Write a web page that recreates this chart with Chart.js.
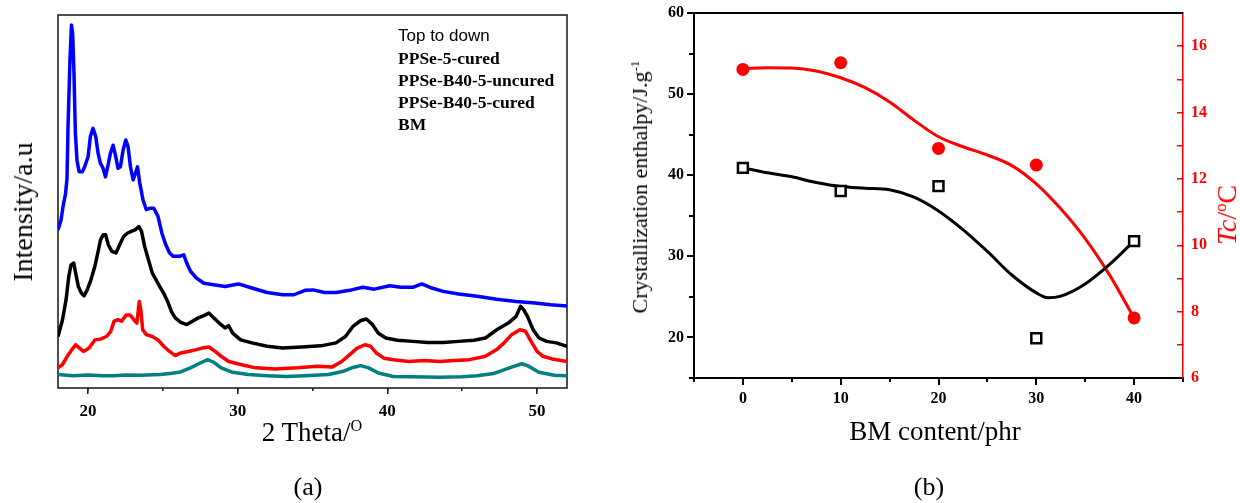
<!DOCTYPE html>
<html>
<head>
<meta charset="utf-8">
<script src="https://cdn.jsdelivr.net/npm/chart.js@4.4.1/dist/chart.umd.min.js"></script>
<style>
body { margin: 0; width: 1240px; height: 503px; background: #fff; position: relative; overflow: hidden; font-family: "Liberation Serif", "Times New Roman", serif; }
.box { position: absolute; }
.lbl { position: absolute; white-space: nowrap; color: #000; }
.rot { transform: translate(-50%, -50%) rotate(-90deg); }
sup { font-size: 60%; vertical-align: 0.6em; line-height: 0; }
</style>
</head>
<body>
<div class="box" style="left:0;top:0;width:600px;height:430px"><canvas id="xrd"></canvas></div>
<div class="box" style="left:600px;top:0;width:640px;height:460px"><canvas id="dsc"></canvas></div>

<div class="lbl" style="left:398px;top:25px;font:17px 'Liberation Sans',Arial,sans-serif;line-height:22px">Top to down</div>
<div class="lbl" style="left:398px;top:47px;font:bold 17.5px 'Liberation Serif',serif;line-height:22px">PPSe-5-cured<br>PPSe-B40-5-uncured<br>PPSe-B40-5-cured<br>BM</div>
<div class="lbl rot" style="left:23px;top:212px;font-size:28px;line-height:28px">Intensity/a.u</div>
<div class="lbl" style="left:312px;top:417px;font-size:27px;line-height:30px;transform:translateX(-50%)">2 Theta/<sup>O</sup></div>
<div class="lbl" style="left:308px;top:472px;font-size:26px;line-height:30px;transform:translateX(-50%)">(a)</div>

<div class="lbl rot" style="left:640px;top:187px;font-size:22px;line-height:22px">Crystallization enthalpy/J.g<sup>-1</sup></div>
<div class="lbl rot" style="left:1227px;top:215px;font-size:28px;line-height:28px;color:#ff0000"><i>Tc</i>/<sup>o</sup>C</div>
<div class="lbl" style="left:935px;top:416px;font-size:27px;line-height:30px;transform:translateX(-50%)">BM content/phr</div>
<div class="lbl" style="left:929px;top:472px;font-size:26px;line-height:30px;transform:translateX(-50%)">(b)</div>

<script>
// panel (a): XRD patterns, intensity in arbitrary units (0-100 over the frame)
const blueTheta = [18, 18.2, 18.35, 18.5, 18.6, 18.67, 18.8, 18.9, 18.98, 19.07, 19.16, 19.27, 19.41, 19.63, 19.78, 20.01, 20.16, 20.34, 20.52, 20.68, 20.83, 21.01, 21.17, 21.34, 21.5, 21.68, 21.86, 22.01, 22.17, 22.35, 22.53, 22.68, 22.84, 23.02, 23.17, 23.31, 23.46, 23.68, 23.9, 24.17, 24.4, 24.68, 24.94, 25.2, 25.45, 25.7, 26.1, 26.4, 26.6, 26.85, 27.24, 27.75, 28.4, 29.16, 30.05, 30.95, 31.97, 33, 33.76, 34.5, 35.04, 35.8, 36.57, 37.6, 38.36, 39.13, 40.15, 40.9, 41.7, 42.3, 42.97, 43.73, 44.76, 46, 47.3, 48.6, 49.87, 50.9, 52];
const blueInt = [42.4, 45, 49, 52, 56, 70, 88, 97.3, 95, 84, 68.3, 61, 58, 58, 59.3, 62, 67.4, 69.6, 67.4, 62.9, 60.3, 58.9, 56.6, 59.7, 62.9, 65.1, 62, 58.9, 59.3, 63.8, 66.5, 64.7, 59.3, 55.8, 57.5, 59.3, 55, 50.4, 47.8, 48.2, 48.2, 46, 41.5, 38.4, 36.2, 35.3, 35.3, 35.7, 33.5, 31.3, 29.5, 28.1, 27.7, 27.2, 27.9, 26.8, 25.6, 25, 25, 26.2, 26.3, 25.6, 25.6, 26.3, 27, 26.5, 27.4, 27, 27, 27.9, 26.8, 25.9, 25.2, 24.6, 23.8, 23.2, 22.8, 22.3, 22];

const blackTheta = [18, 18.3, 18.54, 18.72, 18.87, 19.05, 19.18, 19.36, 19.57, 19.74, 19.95, 20.2, 20.46, 20.66, 20.84, 21.02, 21.18, 21.36, 21.6, 21.87, 22.12, 22.38, 22.63, 22.89, 23.15, 23.4, 23.58, 23.79, 24.04, 24.3, 24.55, 24.8, 25.06, 25.32, 25.58, 25.83, 26.2, 26.6, 26.98, 27.37, 27.75, 28.08, 28.4, 28.77, 29.16, 29.4, 29.67, 30.2, 30.95, 31.97, 33, 34.27, 35.55, 36.57, 37.2, 37.7, 38.23, 38.6, 39, 39.4, 39.9, 40.67, 41.7, 42.7, 43.73, 44.76, 45.78, 46.55, 47.3, 48.08, 48.6, 48.9, 49.1, 49.36, 49.74, 50.13, 50.64, 51.28, 52];
const blackInt = [13.8, 18.3, 23.7, 29.9, 33, 33.5, 30.8, 27.2, 25.4, 24.7, 26.3, 29, 32.6, 36.2, 39.7, 41.1, 41.1, 38.4, 36.6, 36.2, 38.4, 40.6, 41.5, 42, 42.4, 43.3, 42, 37.9, 34.4, 30.8, 29, 27.2, 25.4, 23.2, 20.5, 18.8, 17.6, 17, 17.9, 18.8, 19.4, 20.1, 18.8, 17.4, 16.1, 16.7, 14.7, 12.9, 12.1, 11.2, 10.7, 11, 11.3, 12.1, 13.8, 16.5, 18.1, 18.5, 17, 14.7, 13.4, 12.8, 12.5, 12.2, 12.2, 12.5, 12.8, 13.4, 15.6, 17.4, 19.2, 21.9, 21, 19.2, 15.6, 13.4, 12.5, 12.1, 11.2];

const redTheta = [18, 18.3, 18.62, 18.93, 19.18, 19.44, 19.7, 20.08, 20.46, 20.84, 21.23, 21.53, 21.74, 22, 22.25, 22.56, 22.81, 23.07, 23.27, 23.43, 23.53, 23.66, 23.9, 24.3, 24.68, 25.06, 25.45, 25.83, 26.2, 26.7, 27.24, 27.62, 28.08, 28.5, 28.9, 29.4, 30.2, 31.2, 32.5, 34, 35.3, 36.3, 36.95, 37.47, 37.98, 38.5, 38.87, 39.26, 39.77, 40.4, 41.43, 42.46, 43.48, 44.5, 45.5, 46.55, 47.3, 47.8, 48.3, 48.85, 49.23, 49.6, 50, 50.4, 51, 52];
const redInt = [5.4, 6.3, 8.5, 10.3, 11.6, 10.7, 9.8, 10.7, 12.9, 13.1, 13.8, 15.2, 17.9, 18.3, 17.9, 19.6, 19.6, 18.3, 17.4, 23.2, 21, 15.6, 14.3, 13.8, 12.9, 11.2, 9.8, 8.7, 9.4, 9.8, 10.3, 10.7, 11, 9.8, 8.5, 7.1, 6.3, 5.4, 5.1, 5.4, 5.8, 5.6, 7.1, 8.9, 10.7, 11.6, 11.2, 9.4, 8, 7.6, 7.1, 7.4, 7.1, 7.4, 7.6, 8.5, 10.3, 12.1, 14.3, 15.6, 15.2, 12.5, 9.8, 8.5, 7.8, 7.1];

const tealTheta = [18, 19, 20, 21, 21.74, 22.5, 23.5, 24.8, 25.5, 26.1, 26.85, 27.5, 28, 28.4, 28.9, 29.67, 30.7, 32, 33.25, 34.5, 36.06, 37.08, 37.7, 38.23, 38.75, 39.4, 40.4, 41.5, 43.48, 45, 46, 47, 47.55, 48.3, 48.98, 49.36, 50.13, 51.15, 52];
const tealInt = [3.6, 3.3, 3.5, 3.3, 3.3, 3.5, 3.4, 3.6, 3.9, 4.2, 5.4, 6.7, 7.6, 6.9, 5.4, 4.2, 3.6, 3.3, 3.1, 3.3, 3.6, 4.5, 5.5, 6, 5.4, 4, 3.1, 3.0, 2.9, 3.0, 3.3, 3.8, 4.5, 5.6, 6.5, 6, 4.2, 3.4, 3.3];

const thetaTicks = [20, 30, 40, 50];

// panel (b): crystallization enthalpy and Tc vs BM content
const bmContent = [0, 10, 20, 30, 40];
const enthalpy = [40.9, 38.05, 38.66, 19.9, 31.87];
const tcValues = [15.3, 15.5, 12.92, 12.42, 7.81];

// fitted curves
const enthalpyFitX = [0, 2.5, 5, 7.5, 10, 12.5, 15, 17.5, 20, 22.5, 25, 27.5, 30, 31.2, 32.5, 35, 37.5, 40];
const enthalpyFitY = [40.9, 40.3, 39.8, 39.1, 38.6, 38.4, 38.2, 37.3, 35.6, 33.3, 30.6, 27.7, 25.5, 24.9, 25.1, 26.6, 29.0, 31.9];
const tcFitX = [0, 2.5, 5, 7.5, 10, 12.5, 15, 17.5, 20, 22.5, 25, 27.5, 30, 32.5, 35, 37.5, 40];
const tcFitY = [15.32, 15.35, 15.34, 15.25, 15.05, 14.75, 14.32, 13.77, 13.27, 12.97, 12.72, 12.4, 11.85, 11.1, 10.2, 9.1, 7.81];

const bmTicks = [0, 10, 20, 30, 40];
const enthalpyTicks = [20, 30, 40, 50, 60];

const serif = '"Liberation Serif", "Times New Roman", serif';
Chart.defaults.font.family = serif;
Chart.defaults.color = '#000';

function pairs(xs, ys) {
    return xs.map(function (x, i) { return {x: x, y: ys[i]}; });
}

function trace(xs, ys, color) {
    return {
        data: pairs(xs, ys),
        borderColor: color,
        borderWidth: 3.5,
        pointRadius: 0,
        tension: 0,
        borderJoinStyle: 'round',
        fill: false
    };
}

function noPad(scale) {
    scale.paddingTop = 0;
    scale.paddingBottom = 0;
    scale.paddingLeft = 0;
    scale.paddingRight = 0;
}
function fixHeight(h) { return function (scale) { scale.height = h; noPad(scale); }; }
function fixWidth(w) { return function (scale) { scale.width = w; noPad(scale); }; }
function useTicks(values) {
    return function (scale) { scale.ticks = values.map(function (v) { return {value: v}; }); };
}

const framePlugin = {
    id: 'frame',
    beforeDatasetsDraw: function (chart) {
        const a = chart.chartArea, ctx = chart.ctx;
        ctx.save();
        ctx.strokeStyle = '#222';
        ctx.lineWidth = 1.6;
        ctx.strokeRect(a.left, a.top, a.right - a.left, a.bottom - a.top);
        ctx.restore();
    }
};

const topLinePlugin = {
    id: 'topline',
    afterDraw: function (chart) {
        const a = chart.chartArea, ctx = chart.ctx;
        ctx.save();
        ctx.strokeStyle = '#000';
        ctx.lineWidth = 2;
        ctx.beginPath();
        ctx.moveTo(a.left - 1, a.top);
        ctx.lineTo(a.right, a.top);
        ctx.stroke();
        ctx.restore();
    }
};

new Chart(document.getElementById('xrd'), {
    type: 'line',
    data: {
        datasets: [
            trace(blueTheta, blueInt, '#0000ff'),
            trace(blackTheta, blackInt, '#000000'),
            trace(redTheta, redInt, '#ff0000'),
            trace(tealTheta, tealInt, '#008080')
        ]
    },
    options: {
        responsive: true,
        maintainAspectRatio: false,
        animation: false,
        devicePixelRatio: 1,
        layout: {padding: {left: 58, top: 15, right: 33, bottom: 0}},
        plugins: {legend: {display: false}, tooltip: {enabled: false}},
        scales: {
            x: {
                type: 'linear', position: 'bottom', weight: 1,
                min: 18, max: 52,
                border: {display: false},
                grid: {drawOnChartArea: false, tickLength: 6, color: '#222', lineWidth: 1.6},
                ticks: {padding: 7, font: {size: 17, weight: 'bold'}},
                afterBuildTicks: useTicks(thetaTicks),
                afterFit: fixHeight(42)
            },
            xm: {
                type: 'linear', position: 'bottom', weight: 0,
                min: 18, max: 52,
                border: {display: false},
                grid: {drawOnChartArea: false, tickLength: 3, color: '#222', lineWidth: 1.6},
                ticks: {display: false, stepSize: 5, includeBounds: false},
                afterFit: fixHeight(0)
            },
            y: {display: false, min: 0, max: 100}
        }
    },
    plugins: [framePlugin]
});

new Chart(document.getElementById('dsc'), {
    type: 'line',
    data: {
        datasets: [
            {
                data: pairs(bmContent, enthalpy), yAxisID: 'y', order: 0,
                showLine: false, pointStyle: 'rect', pointRadius: 7, pointBorderWidth: 2.5,
                pointBackgroundColor: '#ffffff', pointBorderColor: '#000000', borderColor: '#000000'
            },
            {
                data: pairs(bmContent, tcValues), yAxisID: 'y2', order: 0,
                showLine: false, pointStyle: 'circle', pointRadius: 6.5, pointBorderWidth: 0,
                pointBackgroundColor: '#ff0000', borderColor: '#ff0000'
            },
            {
                data: pairs(enthalpyFitX, enthalpyFitY), yAxisID: 'y', order: 1,
                borderColor: '#000000', borderWidth: 3, pointRadius: 0, cubicInterpolationMode: 'monotone'
            },
            {
                data: pairs(tcFitX, tcFitY), yAxisID: 'y2', order: 1,
                borderColor: '#ff0000', borderWidth: 3, pointRadius: 0, cubicInterpolationMode: 'monotone'
            }
        ]
    },
    options: {
        responsive: true,
        maintainAspectRatio: false,
        animation: false,
        devicePixelRatio: 1,
        layout: {padding: {left: 0, top: 13, right: 0, bottom: 0}},
        plugins: {legend: {display: false}, tooltip: {enabled: false}},
        scales: {
            x: {
                type: 'linear', position: 'bottom', weight: 1,
                min: -5, max: 45,
                border: {color: '#000', width: 2},
                grid: {drawOnChartArea: false, tickLength: 7, color: '#000', lineWidth: 2},
                ticks: {padding: 4, font: {size: 16, weight: 'bold'}},
                afterBuildTicks: useTicks(bmTicks),
                afterFit: fixHeight(82)
            },
            xm: {
                type: 'linear', position: 'bottom', weight: 0,
                min: -5, max: 45,
                border: {display: false},
                grid: {drawOnChartArea: false, tickLength: 4, color: '#000', lineWidth: 2},
                ticks: {display: false, stepSize: 5},
                afterFit: fixHeight(0)
            },
            y: {
                type: 'linear', position: 'left', weight: 1,
                min: 15, max: 60,
                border: {color: '#000', width: 2},
                grid: {drawOnChartArea: false, tickLength: 7, color: '#000', lineWidth: 2},
                ticks: {padding: 3, font: {size: 16, weight: 'bold'}},
                afterBuildTicks: useTicks(enthalpyTicks),
                afterFit: fixWidth(94)
            },
            ym: {
                type: 'linear', position: 'left', weight: 0,
                min: 15, max: 60,
                border: {display: false},
                grid: {drawOnChartArea: false, tickLength: 5, color: '#000', lineWidth: 2},
                ticks: {display: false, stepSize: 5, includeBounds: false},
                afterFit: fixWidth(0)
            },
            y2: {
                type: 'linear', position: 'right',
                min: 6, max: 17,
                border: {color: '#ff0000', width: 1.5},
                grid: {drawOnChartArea: false, tickLength: -6, color: '#ff0000', lineWidth: 1.5},
                ticks: {
                    stepSize: 1, includeBounds: false, autoSkip: false, padding: 14,
                    color: '#ff0000', font: {size: 16, weight: 'bold'},
                    callback: function (v) { return v % 2 === 0 ? v : ''; }
                },
                afterFit: fixWidth(57)
            }
        }
    },
    plugins: [topLinePlugin]
});
</script>
</body>
</html>
